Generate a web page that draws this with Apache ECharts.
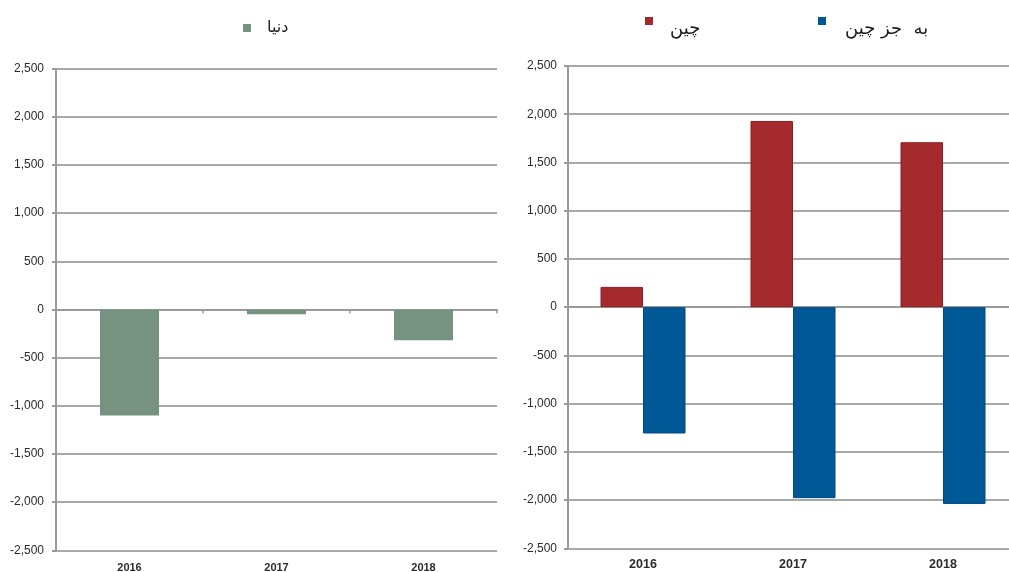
<!DOCTYPE html>
<html>
<head>
<meta charset="utf-8">
<style>
  html, body { margin: 0; padding: 0; background: #ffffff; }
  #chart { width: 1009px; height: 572px; }
</style>
<script src="https://cdn.jsdelivr.net/npm/echarts@6/dist/echarts.min.js"></script>
</head>
<body>
<div id="chart"></div>
<script>
// Years on the category axis
const years = ['2016', '2017', '2018'];

// Series names (legend text)
const nameWorld = 'دنیا';
const nameChina = 'چین';
const nameExChina = 'به  جز چین';

// Values per year
const worldValues = [-1100, -50, -320];
const chinaValues = [210, 1930, 1710];
const exChinaValues = [-1310, -1980, -2040];

// Value axis range
const yMin = -2500;
const yMax = 2500;
const yStep = 500;

const colWorld = '#769382';
const colChina = '#a52a2d';
const colExChina = '#005896';
const gridCol = '#a8a8a8';
const axisCol = '#9a9a9a';
const labelCol = '#2b2b2b';

// square marker drawn at the top of a taller legend slot, so the label sits lower
const raisedSquare = 'path://M0,0h10v10h-10z M0,31h0.01v0.01h-0.01z';

const chart = echarts.init(document.getElementById('chart'), null, { renderer: 'canvas' });

function valueAxis(gridIndex, margin, fontSize) {
  return {
    type: 'value', gridIndex: gridIndex,
    min: yMin, max: yMax, interval: yStep,
    axisLine: { show: true, lineStyle: { color: axisCol, width: 2 } },
    axisTick: { show: true, length: 4, lineStyle: { color: axisCol, width: 2 } },
    splitLine: { show: true, lineStyle: { color: gridCol, width: 2 } },
    axisLabel: { margin: margin, color: labelCol, fontSize: fontSize, fontFamily: 'Liberation Sans, Arial, sans-serif' }
  };
}

// category axis sitting on the zero line (no labels)
function zeroAxis(gridIndex, showTicks) {
  return {
    type: 'category', gridIndex: gridIndex, data: years,
    axisLine: { show: true, onZero: true, lineStyle: { color: axisCol, width: 2 } },
    axisTick: { show: showTicks, length: 4, lineStyle: { color: axisCol, width: 1.5 } },
    axisLabel: { show: false },
    splitLine: { show: false }
  };
}

// category labels along the bottom edge
function labelAxis(gridIndex, margin, fontSize) {
  return {
    type: 'category', gridIndex: gridIndex, data: years, position: 'bottom',
    axisLine: { show: false, onZero: false },
    axisTick: { show: false },
    axisLabel: { show: true, margin: margin, color: labelCol, fontSize: fontSize, fontWeight: 'bold', fontFamily: 'Liberation Sans, Arial, sans-serif' },
    splitLine: { show: false }
  };
}

const legendFont = { color: '#1a1a1a', fontFamily: 'DejaVu Sans, sans-serif' };
const legendMarker = { borderWidth: 0 };

chart.setOption({
  backgroundColor: '#ffffff',
  animation: false,
  grid: [
    { left: 56, top: 68.7, width: 441, bottom: 21.7, outerBoundsMode: 'none' },
    { left: 568, top: 66, width: 450, bottom: 23.7, outerBoundsMode: 'none' }
  ],
  legend: [
    {
      data: [nameWorld], left: 238, top: 15,
      icon: 'rect', itemWidth: 8, itemHeight: 8, itemStyle: legendMarker,
      textStyle: Object.assign({ fontSize: 16, padding: [0, 0, 2, 11] }, legendFont)
    },
    {
      data: [nameChina], left: 640, top: 12,
      icon: raisedSquare, itemWidth: 8, itemHeight: 24.8, itemStyle: legendMarker,
      textStyle: Object.assign({ fontSize: 18, padding: [0, 0, 0, 12] }, legendFont)
    },
    {
      data: [nameExChina], left: 813, top: 12,
      icon: raisedSquare, itemWidth: 8, itemHeight: 24.8, itemStyle: legendMarker,
      textStyle: Object.assign({ fontSize: 18, padding: [0, 0, 0, 14] }, legendFont)
    }
  ],
  xAxis: [
    zeroAxis(0, true),
    labelAxis(0, 12, 11),
    zeroAxis(1, false),
    labelAxis(1, 10, 12.5)
  ],
  yAxis: [
    valueAxis(0, 12, 12),
    valueAxis(1, 11, 12)
  ],
  series: [
    {
      name: nameWorld, type: 'bar', xAxisIndex: 0, yAxisIndex: 0,
      data: worldValues, barWidth: 59,
      itemStyle: { color: colWorld }
    },
    {
      name: nameChina, type: 'bar', xAxisIndex: 2, yAxisIndex: 1,
      data: chinaValues, barWidth: 42.5, barGap: '0%',
      itemStyle: { color: colChina, borderColor: '#8e1f22', borderWidth: 1 }
    },
    {
      name: nameExChina, type: 'bar', xAxisIndex: 2, yAxisIndex: 1,
      data: exChinaValues, barWidth: 42.5, barGap: '0%',
      itemStyle: { color: colExChina, borderColor: '#004a80', borderWidth: 1 }
    }
  ]
});
</script>
</body>
</html>
